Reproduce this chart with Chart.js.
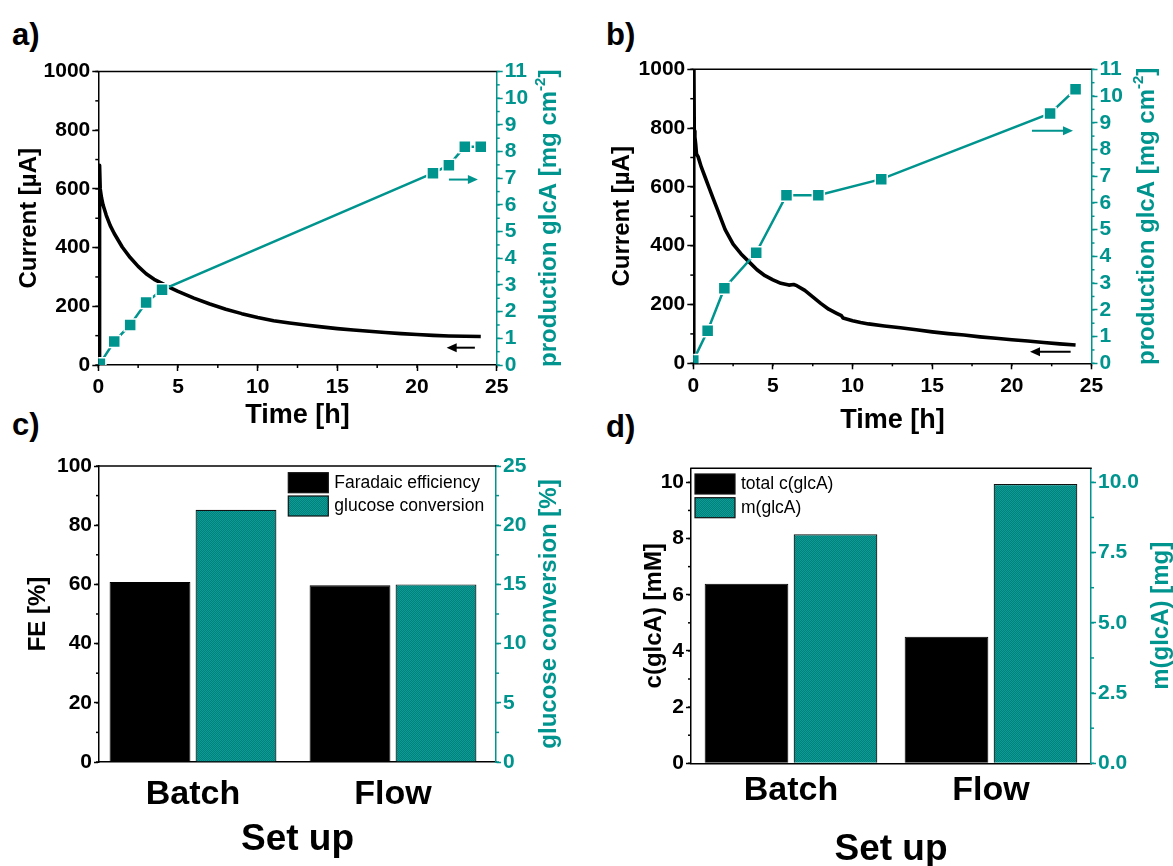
<!DOCTYPE html>
<html>
<head>
<meta charset="utf-8">
<script src="https://cdn.jsdelivr.net/npm/chart.js@4.4.1/dist/chart.umd.min.js"></script>
<style>
  html, body { margin: 0; padding: 0; background: #fff; }
  #fig { position: relative; width: 1173px; height: 866px; overflow: hidden; background: #fff;
         font-family: 'Liberation Sans', Arial, sans-serif; }
  #fig canvas { position: absolute; }
  .tag { position: absolute; font-weight: bold; font-size: 31px; line-height: 1; color: #000; }
</style>
</head>
<body>
<div id="fig">
  <div class="tag" style="left:12px;top:19px">a)</div>
  <div class="tag" style="left:606px;top:19px">b)</div>
  <div class="tag" style="left:12px;top:409px">c)</div>
  <div class="tag" style="left:606px;top:411px">d)</div>
  <canvas id="pa" width="590" height="390" style="left:0;top:50px"></canvas>
  <canvas id="pb" width="583" height="390" style="left:590px;top:50px"></canvas>
  <canvas id="pc" width="590" height="426" style="left:0;top:440px"></canvas>
  <canvas id="pd" width="583" height="426" style="left:590px;top:440px"></canvas>
</div>
<script>
// ---------- a) batch cell: chronoamperometry and glcA production ----------
const timeA = [0.05, 0.08, 0.12, 0.2, 0.3, 0.5, 0.75, 1, 1.5, 2,
               2.5, 3, 3.5, 4, 4.5, 5, 6, 7, 8, 9,
               10, 11, 12, 13, 14, 15, 16, 17, 18, 19,
               20, 21, 22, 23, 24];
const currentA = [0, 680, 600, 570, 545, 510, 475, 448, 402, 366,
                  336, 311, 292, 278, 264, 251, 228, 208, 190, 175,
                  162, 151, 143, 136, 130, 124, 119, 115, 111, 107,
                  104, 101, 99, 98, 97];
const sampleTimeA = [0.1, 1, 2, 3, 4, 21, 22, 23, 24];
const productionA = [0.05, 0.88, 1.5, 2.34, 2.82, 7.19, 7.49, 8.18, 8.18];

// ---------- b) flow cell ----------
const timeB = [0, 0.03, 0.06, 0.1, 0.15, 0.2, 0.3, 0.5, 0.75, 1,
               1.25, 1.5, 2, 2.5, 3, 3.5, 4, 4.5, 5, 5.5,
               6, 6.3, 6.5, 7, 7.5, 8, 8.5, 9, 9.3, 9.4,
               10, 10.5, 11, 12, 13, 14, 15, 16, 17, 18,
               19, 20, 21, 22, 23, 24];
const currentB = [0, 1080, 790, 770, 745, 712, 703, 668, 632, 596,
                  560, 525, 455, 405, 372, 345, 318, 298, 284, 272,
                  266, 268, 264, 248, 226, 204, 184, 170, 162, 154,
                  145, 139, 134, 127, 121, 114, 107, 101, 96, 90,
                  85, 80, 76, 71, 66, 62];
const sampleTimeB = [0, 0.9, 1.95, 3.95, 5.85, 7.85, 11.8, 22.4, 24];
const productionB = [0.1, 1.22, 2.81, 4.14, 6.29, 6.29, 6.89, 9.35, 10.25];

// ---------- c) / d) comparison of set-ups ----------
const setups = ['Batch', 'Flow'];
const faradaicEff = [60.8, 59.7];     // %
const glucoseConv = [21.3, 15.0];     // %
const concGlcA = [6.39, 4.5];         // mM
const massGlcA = [8.15, 9.94];        // mg

// ---------- tick values ----------
const timeTicks = [0, 5, 10, 15, 20, 25];
const currentTicks = [0, 200, 400, 600, 800, 1000];
const productionTicks = [0, 1, 2, 3, 4, 5, 6, 7, 8, 9, 10, 11];
const feTicks = [0, 20, 40, 60, 80, 100];
const convTicks = [0, 5, 10, 15, 20, 25];
const concTicks = [0, 2, 4, 6, 8, 10];
const massTicks = [0, 2.5, 5, 7.5, 10];

const TEAL = '#00948f';
const FONT = "'Liberation Sans', Arial, Helvetica, sans-serif";
Chart.defaults.font.family = FONT;
Chart.defaults.color = '#000';

// fine dotted fill used by the teal bars
function dottedTeal() {
  const c = document.createElement('canvas');
  c.width = 2; c.height = 2;
  const g = c.getContext('2d');
  g.fillStyle = '#0a9c97'; g.fillRect(0, 0, 2, 2);
  g.fillStyle = '#00807b'; g.fillRect(1, 0, 1, 1); g.fillRect(0, 1, 1, 1);
  return g.createPattern(c, 'repeat');
}
const tealFill = dottedTeal();

// frame line, minor ticks, rotated right-hand titles, arrows and inset legend
const decor = {
  id: 'decor',
  afterDraw(chart, args, o) {
    const {ctx, chartArea: ca, scales} = chart;
    ctx.save();
    ctx.lineCap = 'butt';
    ctx.strokeStyle = '#000'; ctx.lineWidth = 1.5;
    ctx.beginPath(); ctx.moveTo(ca.left - 0.75, ca.top); ctx.lineTo(ca.right + 0.75, ca.top); ctx.stroke();

    for (const [id, step] of Object.entries(o.minor || {})) {
      const s = scales[id];
      ctx.strokeStyle = s.options.border.color; ctx.lineWidth = 1.5;
      const n = Math.floor((s.max - s.min) / step + 1e-9);
      for (let i = 0; i <= n; i++) {
        const p = s.getPixelForValue(s.min + i * step);
        ctx.beginPath();
        if (s.position === 'left') { ctx.moveTo(ca.left, p); ctx.lineTo(ca.left - 3, p); }
        else if (s.position === 'right') { ctx.moveTo(ca.right, p); ctx.lineTo(ca.right + 3, p); }
        else { ctx.moveTo(p, ca.bottom); ctx.lineTo(p, ca.bottom + 3); }
        ctx.stroke();
      }
    }

    for (const a of o.arrows || []) {
      const xs = scales.x, ys = scales[a.axis];
      const x1 = xs.getPixelForValue(a.from), x2 = xs.getPixelForValue(a.to);
      const y = ys.getPixelForValue(a.y);
      const dir = Math.sign(x2 - x1);
      ctx.strokeStyle = a.color; ctx.fillStyle = a.color; ctx.lineWidth = 2;
      ctx.beginPath(); ctx.moveTo(x1, y); ctx.lineTo(x2 - dir * 8, y); ctx.stroke();
      ctx.beginPath(); ctx.moveTo(x2, y); ctx.lineTo(x2 - dir * 10, y - 4.5); ctx.lineTo(x2 - dir * 10, y + 4.5);
      ctx.closePath(); ctx.fill();
    }

    const lg = o.legend;
    if (lg) {
      ctx.font = `17.5px ${FONT}`;
      ctx.textBaseline = 'middle'; ctx.textAlign = 'left';
      chart.data.datasets.forEach((ds, i) => {
        const bx = lg.side === 'right' ? ca.right + lg.dx : ca.left + lg.dx;
        const by = ca.top + lg.dy + i * lg.pitch;
        ctx.fillStyle = ds.backgroundColor;
        ctx.fillRect(bx, by, 40, 20);
        ctx.strokeStyle = '#111'; ctx.lineWidth = 1.2;
        ctx.strokeRect(bx, by, 40, 20);
        ctx.fillStyle = '#000';
        ctx.fillText(ds.label, bx + 46, by + 10.5);
      });
    }

    const rt = o.rightTitle;
    if (rt) {
      const big = `bold 24px ${FONT}`, small = `bold 15px ${FONT}`;
      ctx.font = big;
      const w1 = ctx.measureText(rt.text).width;
      const w3 = rt.after ? ctx.measureText(rt.after).width : 0;
      ctx.font = small;
      const w2 = rt.sup ? ctx.measureText(rt.sup).width : 0;
      ctx.translate(ca.right + rt.dx, (ca.top + ca.bottom) / 2);
      ctx.rotate(-Math.PI / 2);
      ctx.fillStyle = TEAL; ctx.textBaseline = 'middle'; ctx.textAlign = 'left';
      let x = -(w1 + w2 + w3) / 2;
      ctx.font = big; ctx.fillText(rt.text, x, 0); x += w1;
      if (rt.sup) { ctx.font = small; ctx.fillText(rt.sup, x, -8); x += w2; }
      if (rt.after) { ctx.font = big; ctx.fillText(rt.after, x, 0); }
    }
    ctx.restore();
  }
};
Chart.register(decor);

function yAxis({pos, min, max, ticks, color, width, title, titlePad, tickLen, fmt}) {
  return {
    type: 'linear', position: pos, min, max,
    afterBuildTicks: s => { s.ticks = ticks.map(v => ({value: v})); },
    afterFit: s => { s.width = width; },
    ticks: {color, padding: 2, autoSkip: false, font: {size: 21, weight: 'bold'},
            callback: fmt || (v => String(v))},
    grid: {drawOnChartArea: false, tickLength: tickLen, tickWidth: 1.5, tickColor: color, color},
    border: {color, width: 1.5},
    title: title
      ? {display: true, text: title, color, font: {size: 24, weight: 'bold', lineHeight: 1}, padding: {top: titlePad, bottom: 0}}
      : {display: false}
  };
}

function xAxis({min, max, ticks, labels, height, tickLen, tickPad, tickSize, title, titleSize, titlePad}) {
  return {
    type: 'linear', position: 'bottom', min, max, offset: false,
    afterBuildTicks: s => { s.ticks = ticks.map(v => ({value: v})); },
    afterFit: s => { s.height = height; },
    ticks: {color: '#000', padding: tickPad, maxRotation: 0, autoSkip: false,
            font: {size: tickSize, weight: 'bold'},
            callback: labels ? (v => labels[ticks.indexOf(v)]) : (v => String(v))},
    grid: {drawOnChartArea: false, offset: false, drawTicks: tickLen > 0, tickLength: tickLen,
           tickWidth: 1.5, tickColor: '#000'},
    border: {color: '#000', width: 1.5},
    title: {display: true, text: title, color: '#000', font: {size: titleSize, weight: 'bold', lineHeight: 1},
            padding: {top: 0, bottom: titlePad}}
  };
}

const common = {
  responsive: false, animation: false, devicePixelRatio: 1, events: []
};

function timeChart(id, d) {
  return new Chart(document.getElementById(id), {
    type: 'line',
    data: {
      datasets: [
        {label: 'production glcA', yAxisID: 'y2',
         data: d.sampleTime.map((t, i) => ({x: t, y: d.production[i]})),
         borderColor: TEAL, backgroundColor: TEAL, borderWidth: 2.5,
         pointStyle: 'rect', pointRadius: 8.5, pointBackgroundColor: TEAL,
         pointBorderColor: '#fff', pointBorderWidth: 1.5},
        {label: 'Current', yAxisID: 'y',
         data: d.time.map((t, i) => ({x: t, y: d.current[i]})),
         borderColor: '#000', borderWidth: 3.6, pointRadius: 0, borderJoinStyle: 'round'}
      ]
    },
    options: {
      ...common,
      layout: {padding: {top: d.top, left: 0, right: 0, bottom: 0}},
      scales: {
        x: xAxis({min: 0, max: 25, ticks: timeTicks, height: d.xh, tickLen: 6, tickPad: 4,
                  tickSize: 21, title: 'Time [h]', titleSize: 27, titlePad: d.xtp}),
        y: yAxis({pos: 'left', min: 0, max: 1000, ticks: currentTicks, color: '#000', width: d.yw,
                  title: 'Current [µA]', titlePad: d.ytp, tickLen: 6}),
        y2: yAxis({pos: 'right', min: 0, max: 11, ticks: productionTicks, color: TEAL, width: d.y2w, tickLen: 6})
      },
      plugins: {
        legend: {display: false}, tooltip: {enabled: false},
        decor: {
          minor: {x: 2.5, y: 100, y2: 0.5},
          rightTitle: {text: 'production glcA [mg cm', sup: '-2', after: ']', dx: d.rtx},
          arrows: d.arrows
        }
      }
    }
  });
}

timeChart('pa', {
  time: timeA, current: currentA, sampleTime: sampleTimeA, production: productionA,
  top: 21.5, xh: 75, yw: 98.3, y2w: 93.3, xtp: 10.5, ytp: 17, rtx: 52.3,
  arrows: [
    {axis: 'y2', y: 6.95, from: 22.0, to: 23.82, color: TEAL},
    {axis: 'y', y: 59, from: 23.63, to: 21.86, color: '#000'}
  ]
});

timeChart('pb', {
  time: timeB, current: currentB, sampleTime: sampleTimeB, production: productionB,
  top: 19.3, xh: 76.7, yw: 103.3, y2w: 81.5, xtp: 5.8, ytp: 20, rtx: 55.5,
  arrows: [
    {axis: 'y2', y: 8.7, from: 21.26, to: 23.84, color: TEAL},
    {axis: 'y', y: 39.5, from: 23.69, to: 21.14, color: '#000'}
  ]
});

function barChart(id, d) {
  return new Chart(document.getElementById(id), {
    type: 'bar',
    data: {
      datasets: [
        {label: d.labels[0], yAxisID: 'y', data: d.left.map((v, i) => ({x: i + 1, y: v})),
         backgroundColor: '#000', borderColor: '#000', borderWidth: 1,
         categoryPercentage: d.cat, barPercentage: d.bar},
        {label: d.labels[1], yAxisID: 'y2', data: d.right.map((v, i) => ({x: i + 1, y: v})),
         backgroundColor: tealFill, borderColor: '#111', borderWidth: 1.2,
         categoryPercentage: d.cat, barPercentage: d.bar}
      ]
    },
    options: {
      ...common,
      layout: {padding: {top: d.top, left: 0, right: 0, bottom: 0}},
      scales: {
        x: xAxis({min: d.xmin, max: d.xmax, ticks: [1, 2], labels: setups, height: d.xh, tickLen: 0,
                  tickPad: d.xpad, tickSize: 34, title: 'Set up', titleSize: 37, titlePad: d.xtp}),
        y: yAxis({pos: 'left', min: 0, max: d.ymax, ticks: d.yticks, color: '#000', width: d.yw,
                  title: d.ytitle, titlePad: d.ytp, tickLen: 5}),
        y2: yAxis({pos: 'right', min: 0, max: d.y2max, ticks: d.y2ticks, color: TEAL, width: d.y2w,
                   tickLen: 5, fmt: d.y2fmt})
      },
      plugins: {
        legend: {display: false}, tooltip: {enabled: false},
        decor: {
          minor: d.minor,
          rightTitle: {text: d.rtitle, dx: d.rtx},
          legend: d.legend
        }
      }
    }
  });
}

barChart('pc', {
  labels: ['Faradaic efficiency', 'glucose conversion'], left: faradaicEff, right: glucoseConv,
  cat: 0.86, bar: 0.94, xmin: 0.53, xmax: 2.515,
  top: 26, xh: 104, yw: 99, y2w: 94, xpad: 12.5, xtp: 8,
  ymax: 100, yticks: feTicks, ytitle: 'FE [%]', ytp: 26,
  y2max: 25, y2ticks: convTicks, rtitle: 'glucose conversion [%]', rtx: 53,
  minor: {y: 10, y2: 2.5},
  legend: {side: 'right', dx: -207.7, dy: 6.7, pitch: 23.3}
});

barChart('pd', {
  labels: ['total c(glcA)', 'm(glcA)'], left: concGlcA, right: massGlcA,
  cat: 0.89, bar: 0.94, xmin: 0.5, xmax: 2.5,
  top: 28.3, xh: 102.7, yw: 101, y2w: 82, xpad: 7, xtp: -2.5,
  ymax: 10.5, yticks: concTicks, ytitle: 'c(glcA) [mM]', ytp: 52,
  y2max: 10.5, y2ticks: massTicks, rtitle: 'm(glcA) [mg]', rtx: 70, y2fmt: v => v.toFixed(1),
  minor: {y: 1, y2: 1.25},
  legend: {side: 'left', dx: 4, dy: 5.7, pitch: 23.7}
});
</script>
</body>
</html>
